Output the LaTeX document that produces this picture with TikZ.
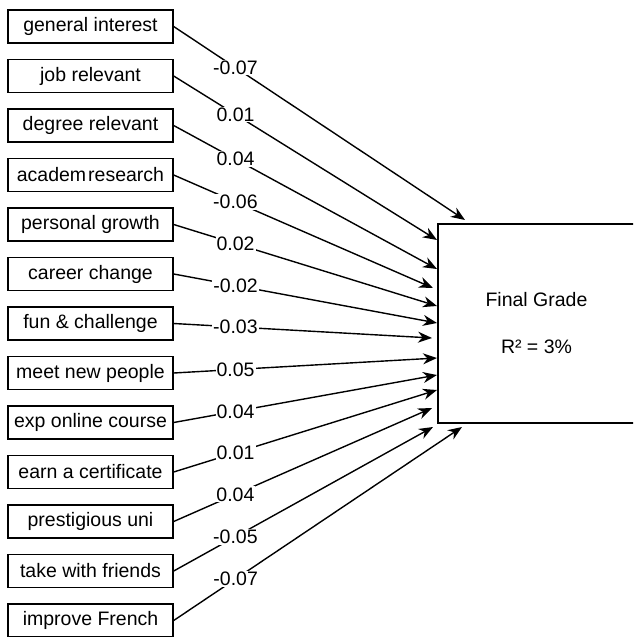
\documentclass[tikz,border=0pt]{standalone}
\usepackage{fontspec}
\setmainfont{Liberation Sans}
\usetikzlibrary{arrows.meta}
\newcommand\mylblfont{\fontsize{19.5}{23.5}\selectfont}
\begin{document}
\begin{tikzpicture}[x=1pt,y=-1pt,
  srcbox/.style={draw, line width=1.4pt, minimum width=165pt, minimum height=33pt, inner sep=0pt, font=\mylblfont},
  lbl/.style={fill=white, inner sep=1pt, font=\mylblfont},
  arr/.style={line width=1.4pt, -{Stealth[length=14pt,width=11pt,inset=4.5pt]}},
  targetbox/.style={draw, line width=1.4pt, minimum width=197pt, minimum height=199pt, inner sep=0pt, font=\mylblfont, align=center}
]
\useasboundingbox (0,0) rectangle (633,637);
\clip (0,0) rectangle (633,637);
\foreach \t [count=\i from 0] in {general interest, job relevant, degree relevant, academ\hspace{2pt}research, personal growth, career change, fun \& challenge, meet new people, exp online course, earn a certificate, prestigious uni, take with friends, improve French}
  \node[srcbox] (s\i) at (90.5, 26.5+49.5*\i) {\t};
\node[targetbox] (fg) at (536.5,323.5) {Final Grade\\ \\ R² = 3\%};
\foreach \i/\tx/\ty/\p/\v in {0/465/220/0.212/-0.07, 1/437/240/0.235/0.01, 2/437/269/0.235/0.04, 3/433/288/0.238/-0.06, 4/437/306/0.235/0.02, 5/437/323/0.235/-0.02, 6/432/338/0.239/-0.03, 7/437/358/0.235/0.05, 8/437/375/0.235/0.04, 9/437/390/0.235/0.01, 10/432/408/0.239/0.04, 11/433/427/0.238/-0.05, 12/462/427/0.215/-0.07}
{
  \coordinate (t\i) at (\tx,\ty);
  \draw[arr] (s\i.east) -- node[lbl,pos=\p] {\v} (t\i);
}
\end{tikzpicture}
\end{document}
